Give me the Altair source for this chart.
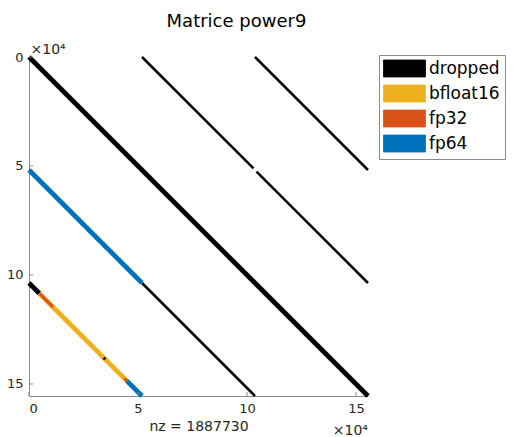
import altair as alt
import pandas as pd

# matrix size and block size
N = 155520
n = 51840

tick_vals = [0, 50000, 100000, 150000]
precisions = ["dropped", "bfloat16", "fp32", "fp64"]
prec_colors = ["#000000", "#EDB120", "#D95319", "#0072BD"]
nz_total = 1887730

# wide diagonal bands: lag (row - col), first col, last col, precision
wide_lag = [0, n, 2 * n, 2 * n, 2 * n]
wide_c0 = [0, 0, 0, 4800, 44900]
wide_c1 = [N, n, 4800, 44900, n]
wide_prec = ["dropped", "fp64", "dropped", "bfloat16", "fp64"]

# narrower pieces inside the bfloat16 band
over_lag = [2 * n, 2 * n, 2 * n]
over_c0 = [5000, 34300, 43800]
over_c1 = [11000, 35000, 44900]
over_prec = ["fp32", "dropped", "fp32"]

# thin diagonals
thin_lag = [-n, -n, -2 * n, n]
thin_c0 = [n, 2 * n + 700, 2 * n, n]
thin_c1 = [2 * n - 700, N, N, 2 * n]
thin_prec = ["dropped", "dropped", "dropped", "dropped"]

FONT = "DejaVu Sans"
AXC = "#8a8a8a"
TXT = "#262626"


def seg_df(lag, c0, c1, prec):
    return pd.DataFrame({"lag": lag, "c0": c0, "c1": c1, "prec": prec})


x_axis = alt.Axis(
    values=tick_vals, labelExpr="datum.value / 10000", title=f"nz = {nz_total}",
    tickSize=0, grid=False, domainColor=AXC, domainWidth=1,
    labelFont=FONT, labelFontSize=13, labelColor=TXT, labelPadding=6,
    titleFont=FONT, titleFontSize=14, titleFontWeight="normal", titleColor=TXT,
    titleBaseline="alphabetic", titleY=34,
)
y_axis = alt.Axis(
    values=tick_vals, labelExpr="datum.value / 10000", title="×10⁴",
    tickSize=0, grid=False, domainColor=AXC, domainWidth=1,
    labelFont=FONT, labelFontSize=13, labelColor=TXT, labelPadding=6,
    titleFont=FONT, titleFontSize=14, titleFontWeight="normal", titleColor=TXT,
    titleAngle=0, titleAlign="left", titleBaseline="alphabetic", titleX=1, titleY=-4,
)


def X(field):
    return alt.X(field, type="quantitative", scale=alt.Scale(domain=[0, N], nice=False, zero=False), axis=x_axis)


def Y(field):
    return alt.Y(field, type="quantitative", scale=alt.Scale(domain=[0, N], nice=False, zero=False, reverse=True), axis=y_axis)


color = alt.Color(
    "prec:N",
    scale=alt.Scale(domain=precisions, range=prec_colors),
    legend=alt.Legend(
        title=None, orient="none", legendX=350, legendY=-2,
        symbolType="M-4.2,-1.7H4.2V1.7H-4.2Z", symbolSize=100,
        symbolStrokeWidth=0.8, symbolStrokeColor="#333333", symbolOpacity=1,
        symbolOffset=12, labelOffset=16,
        labelFont=FONT, labelFontSize=17, labelColor="black", labelLimit=200,
        strokeColor="#8c8c8c", fillColor="white", padding=5, rowPadding=4,
    ),
)


def seg_layer(df, width):
    return (
        alt.Chart(df)
        .transform_calculate(r0="datum.c0 + datum.lag", r1="datum.c1 + datum.lag")
        .mark_rule(strokeWidth=width)
        .encode(x=X("c0"), x2="c1:Q", y=Y("r0"), y2="r1:Q", color=color)
    )


# filled layer with no rows, so that the legend shows filled swatches
key = (
    alt.Chart(seg_df(wide_lag, wide_c0, wide_c1, wide_prec))
    .transform_filter("false")
    .transform_calculate(r0="datum.c0 + datum.lag")
    .mark_square(filled=True)
    .encode(x=X("c0"), y=Y("r0"), color=color)
)

thin = seg_layer(seg_df(thin_lag, thin_c0, thin_c1, thin_prec), 2.5)
wide = seg_layer(seg_df(wide_lag, wide_c0, wide_c1, wide_prec), 4.8)
over = seg_layer(seg_df(over_lag, over_c0, over_c1, over_prec), 3)

ticks_df = pd.DataFrame({"v": tick_vals})
yticks = alt.Chart(ticks_df).mark_rule(color=AXC, strokeWidth=1).encode(
    y=Y("v"), x=alt.value(0), x2=alt.value(4)
)
xticks = alt.Chart(ticks_df).mark_rule(color=AXC, strokeWidth=1).encode(
    x=X("v"), y=alt.value(339), y2=alt.value(335)
)
xexp = alt.Chart(pd.DataFrame({"t": ["×10⁴"]})).mark_text(
    font=FONT, fontSize=14, color=TXT, align="right", baseline="alphabetic"
).encode(text="t:N", x=alt.value(339), y=alt.value(378))

chart = (
    alt.layer(key, thin, wide, over, yticks, xticks, xexp)
    .properties(
        width=339, height=339,
        title=alt.TitleParams("Matrice power9", font=FONT, fontSize=18, fontWeight="normal",
                              color="black", anchor="middle", frame="group", dx=38, dy=-7),
        autosize=alt.AutoSizeParams(type="none"),
        padding={"left": 21, "top": 49, "right": 139, "bottom": 41},
    )
    .configure_view(stroke=None)
)

chart.save("out.html", embed_options={"renderer": "svg", "actions": False})
